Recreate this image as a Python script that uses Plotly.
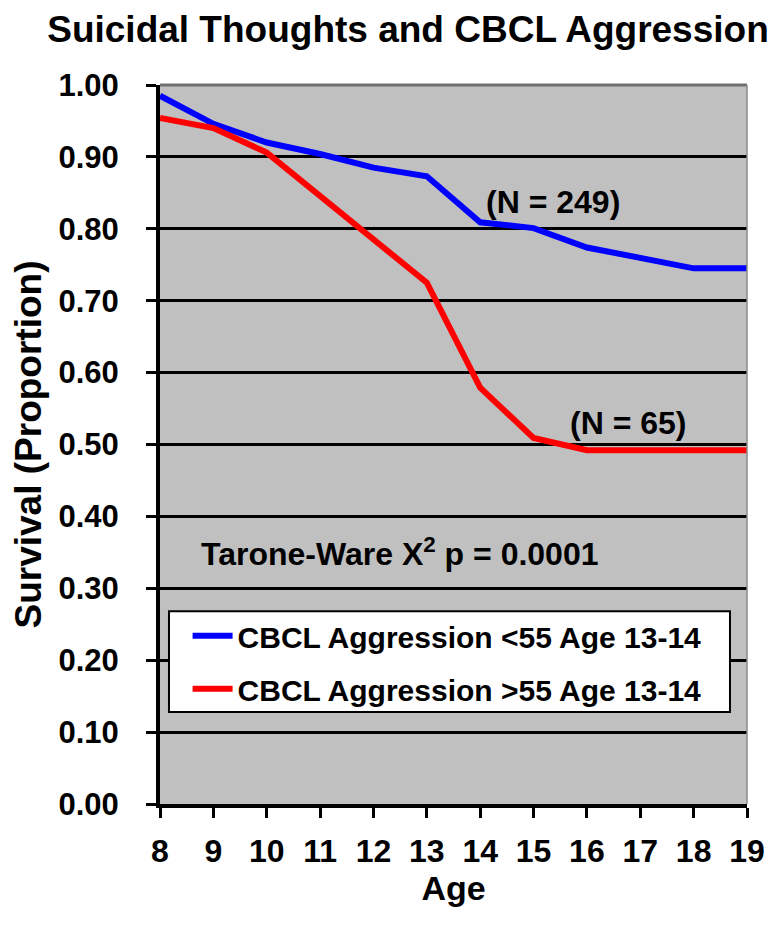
import plotly.graph_objects as go

ages = [8, 9, 10, 11, 12, 13, 14, 15, 16, 17, 18, 19]
low_aggr = [0.985, 0.946, 0.920, 0.904, 0.885, 0.873, 0.809, 0.801, 0.774, 0.759, 0.745, 0.745]
high_aggr = [0.954, 0.940, 0.906, 0.846, 0.785, 0.725, 0.579, 0.509, 0.492, 0.492, 0.492, 0.492]
low_name = "CBCL Aggression <55 Age 13-14"
high_name = "CBCL Aggression >55 Age 13-14"
y_ticks = [0.0, 0.1, 0.2, 0.3, 0.4, 0.5, 0.6, 0.7, 0.8, 0.9, 1.0]

FONT = "Liberation Sans, Arial, sans-serif"
W, H = 771, 917  # page adds an 8px body margin

fig = go.Figure()
fig.add_trace(go.Scatter(x=ages, y=low_aggr, mode="lines", name=low_name,
                         line=dict(color="#0000ff", width=6), legendgroup="a"))
fig.add_trace(go.Scatter(x=ages, y=high_aggr, mode="lines", name=high_name,
                         line=dict(color="#ff0000", width=6), legendgroup="b"))

fig.update_layout(
    width=W, height=H,
    margin=dict(l=152, r=32, t=77, b=121),
    paper_bgcolor="white",
    plot_bgcolor="#c0c0c0",
    font=dict(family=FONT, color="black", weight="bold"),
    title=dict(text="Suicidal Thoughts and CBCL Aggression",
               x=400 / W, xanchor="center", xref="container",
               y=1 - 21 / H, yanchor="middle", yref="container",
               font=dict(size=37, family=FONT, weight="bold")),
    showlegend=True,
    legend=dict(x=0.047, y=0.270, xanchor="left", yanchor="top",
                bgcolor="rgba(0,0,0,0)", borderwidth=0,
                font=dict(size=30, family=FONT, weight="bold"),
                tracegroupgap=11, itemwidth=40),
)

fig.update_xaxes(range=[8, 19], tickmode="array", tickvals=ages,
                 ticks="outside", ticklen=10, tickwidth=3, tickcolor="black",
                 showline=True, linecolor="black", linewidth=4,
                 showgrid=False, zeroline=False,
                 tickfont=dict(size=32, family=FONT, weight="bold"),
                 ticklabelstandoff=6,
                 title=dict(text="Age", font=dict(size=34, family=FONT, weight="bold"), standoff=8))

fig.update_yaxes(range=[0, 1], tickmode="array", tickvals=y_ticks,
                 tickformat=".2f",
                 ticks="outside", ticklen=10, tickwidth=3, tickcolor="black",
                 showline=True, linecolor="black", linewidth=4,
                 showgrid=True, gridcolor="black", gridwidth=3, zeroline=False,
                 tickfont=dict(size=31, family=FONT, weight="bold"),
                 ticklabelstandoff=21,
                 title=dict(text="Survival (Proportion)", font=dict(size=37, family=FONT, weight="bold"), standoff=10))

# top and right plot border (gray)
fig.add_shape(type="line", xref="paper", yref="paper", x0=0, x1=1, y0=1, y1=1,
              line=dict(color="#707070", width=3), layer="above")
fig.add_shape(type="line", xref="paper", yref="paper", x0=1, x1=1, y0=0, y1=1,
              line=dict(color="#8a8a8a", width=1.5), layer="above")
# legend frame
fig.add_shape(type="rect", xref="paper", yref="paper", x0=0.0153, x1=0.971, y0=0.128, y1=0.268,
              fillcolor="white", line=dict(color="black", width=2), layer="above")

fig.add_annotation(x=15.37, y=0.837, xref="x", yref="y", text="(N = 249)", showarrow=False,
                   font=dict(size=32, family=FONT, weight="bold"))
fig.add_annotation(x=16.775, y=0.53, xref="x", yref="y", text="(N = 65)", showarrow=False,
                   font=dict(size=32, family=FONT, weight="bold"))
fig.add_annotation(x=12.5, y=0.35, xref="x", yref="y",
                   text="Tarone-Ware X<sup>2</sup> p = 0.0001", showarrow=False,
                   font=dict(size=32, family=FONT, weight="bold"))

fig.write_html("out.html")
